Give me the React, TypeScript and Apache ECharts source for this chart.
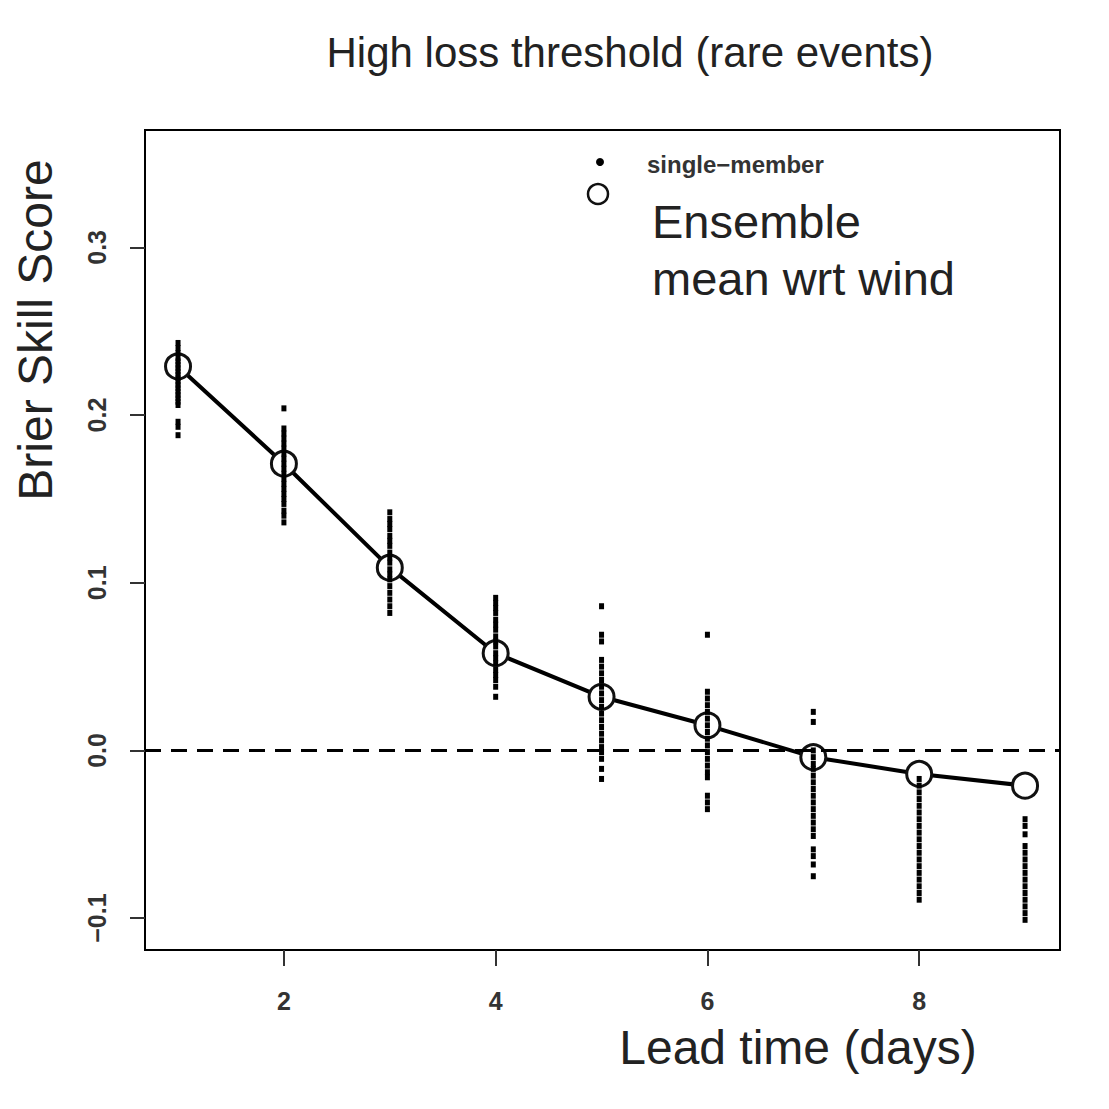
import React, { useEffect, useRef } from "react";
import * as echarts from "echarts";

const leadDays = [1, 2, 3, 4, 5, 6, 7, 8, 9];
const ensembleMean = [0.229, 0.171, 0.109, 0.058, 0.032, 0.015, -0.004, -0.014, -0.021];

const memberDay1 = [0.243, 0.240, 0.237, 0.234, 0.232, 0.230, 0.228, 0.226, 0.224, 0.222, 0.220, 0.218, 0.216, 0.214, 0.212, 0.210, 0.208, 0.206, 0.196, 0.193, 0.188];
const memberDay2 = [0.204, 0.192, 0.189, 0.186, 0.183, 0.180, 0.177, 0.174, 0.171, 0.168, 0.165, 0.162, 0.159, 0.156, 0.153, 0.150, 0.147, 0.143, 0.140, 0.136];
const memberDay3 = [0.142, 0.138, 0.135, 0.132, 0.128, 0.125, 0.122, 0.118, 0.115, 0.112, 0.108, 0.105, 0.102, 0.098, 0.094, 0.090, 0.086, 0.082];
const memberDay4 = [0.091, 0.088, 0.085, 0.082, 0.078, 0.075, 0.072, 0.068, 0.065, 0.062, 0.058, 0.055, 0.052, 0.048, 0.045, 0.042, 0.038, 0.032];
const memberDay5 = [0.086, 0.069, 0.065, 0.054, 0.050, 0.046, 0.042, 0.038, 0.034, 0.030, 0.026, 0.022, 0.018, 0.014, 0.010, 0.006, 0.002, -0.001, -0.005, -0.011, -0.017];
const memberDay6 = [0.069, 0.035, 0.031, 0.027, 0.023, 0.019, 0.015, 0.011, 0.007, 0.003, -0.001, -0.005, -0.009, -0.013, -0.016, -0.027, -0.031, -0.035];
const memberDay7 = [0.023, 0.017, 0.000, -0.004, -0.008, -0.011, -0.015, -0.019, -0.023, -0.027, -0.031, -0.035, -0.039, -0.043, -0.047, -0.051, -0.059, -0.063, -0.068, -0.075];
const memberDay8 = [-0.017, -0.021, -0.025, -0.029, -0.033, -0.037, -0.041, -0.045, -0.049, -0.053, -0.057, -0.061, -0.065, -0.069, -0.073, -0.077, -0.081, -0.085, -0.089];
const memberDay9 = [-0.041, -0.045, -0.050, -0.057, -0.061, -0.065, -0.069, -0.073, -0.077, -0.081, -0.085, -0.089, -0.093, -0.097, -0.101];

const memberValues = [memberDay1, memberDay2, memberDay3, memberDay4, memberDay5, memberDay6, memberDay7, memberDay8, memberDay9];

const xTicks = [2, 4, 6, 8];
const yTicks = [-0.1, 0.0, 0.1, 0.2, 0.3];

const titleText = "High loss threshold (rare events)";
const xTitle = "Lead time (days)";
const yTitle = "Brier Skill Score";
const legendSmall = "single\u2212member";
const legendBig1 = "Ensemble";
const legendBig2 = "mean wrt wind";

export default function App() {
  const ref = useRef<HTMLDivElement>(null);
  useEffect(() => {
    if (!ref.current) return;
    const chart = echarts.init(ref.current, null, { renderer: "svg" });
    const memberPoints: number[][] = [];
    memberValues.forEach((vals, i) => {
      vals.forEach((v) => memberPoints.push([leadDays[i], v]));
    });
    const meanPoints = leadDays.map((d, i) => [d, ensembleMean[i]]);
    const sans = "Liberation Sans, Arial, sans-serif";
    const narrow = "Liberation Sans Narrow, Liberation Sans, Arial, sans-serif";

    chart.setOption({
      animation: false,
      backgroundColor: "#ffffff",
      grid: {
        left: 145,
        top: 130,
        right: 49,
        bottom: 159,
        show: true,
        borderColor: "#000",
        borderWidth: 2,
        backgroundColor: "transparent",
      },
      xAxis: {
        type: "value",
        min: 0.688,
        max: 9.33,
        splitLine: { show: false },
        axisLine: { show: true, onZero: false, lineStyle: { color: "#000", width: 2 } },
        axisTick: { show: true, length: 16, customValues: xTicks, lineStyle: { color: "#333", width: 2 } },
        axisLabel: {
          customValues: xTicks,
          margin: 38,
          fontSize: 25,
          fontWeight: "bold",
          fontFamily: narrow,
          color: "#333",
        },
      },
      yAxis: {
        type: "value",
        min: -0.119,
        max: 0.37,
        splitLine: { show: false },
        axisLine: { show: true, onZero: false, lineStyle: { color: "#000", width: 2 } },
        axisTick: { show: true, length: 15, customValues: yTicks, lineStyle: { color: "#333", width: 2 } },
        axisLabel: {
          customValues: yTicks,
          rotate: 90,
          margin: 36,
          fontSize: 25,
          fontWeight: "bold",
          fontFamily: narrow,
          color: "#333",
          formatter: (v: number) => v.toFixed(1).replace("-", "\u2212"),
        },
      },
      series: [
        {
          type: "line",
          data: meanPoints,
          symbol: "none",
          lineStyle: { color: "#000", width: 4 },
          z: 2,
          markLine: {
            silent: true,
            symbol: "none",
            label: { show: false },
            lineStyle: { color: "#000", width: 3, type: [16, 10] },
            data: [{ yAxis: 0 }],
          },
        },
        {
          type: "scatter",
          data: meanPoints,
          symbol: "circle",
          symbolSize: 25,
          itemStyle: { color: "#fff", borderColor: "#111", borderWidth: 3, opacity: 1 },
          z: 3,
        },
        {
          type: "scatter",
          data: memberPoints,
          symbol: "rect",
          symbolSize: [5, 6],
          itemStyle: { color: "#000", opacity: 1 },
          z: 4,
        },
      ],
      graphic: [
        {
          type: "text",
          x: 630,
          y: 52,
          style: {
            text: titleText,
            font: `42px ${sans}`,
            fill: "#222",
            align: "center",
            verticalAlign: "middle",
          },
        },
        {
          type: "text",
          x: 35,
          y: 330,
          rotation: Math.PI / 2,
          style: {
            text: yTitle,
            font: `48px ${sans}`,
            fill: "#222",
            align: "center",
            verticalAlign: "middle",
          },
        },
        {
          type: "text",
          x: 798,
          y: 1047,
          style: {
            text: xTitle,
            font: `48px ${sans}`,
            fill: "#222",
            align: "center",
            verticalAlign: "middle",
          },
        },
        {
          type: "circle",
          shape: { cx: 600, cy: 162, r: 4 },
          style: { fill: "#000" },
        },
        {
          type: "circle",
          shape: { cx: 598, cy: 194, r: 10 },
          style: { fill: "none", stroke: "#111", lineWidth: 2.5 },
        },
        {
          type: "text",
          x: 647,
          y: 164,
          style: {
            text: legendSmall,
            font: `bold 24px ${narrow}`,
            fill: "#333",
            verticalAlign: "middle",
          },
        },
        {
          type: "text",
          x: 652,
          y: 221,
          style: { text: legendBig1, font: `47px ${sans}`, fill: "#222", verticalAlign: "middle" },
        },
        {
          type: "text",
          x: 652,
          y: 278,
          style: { text: legendBig2, font: `47px ${sans}`, fill: "#222", verticalAlign: "middle" },
        },
      ],
    });
    return () => chart.dispose();
  }, []);
  return (
    <div
      ref={ref}
      style={{ position: "absolute", left: 0, top: 0, width: 1109, height: 1109 }}
    />
  );
}
